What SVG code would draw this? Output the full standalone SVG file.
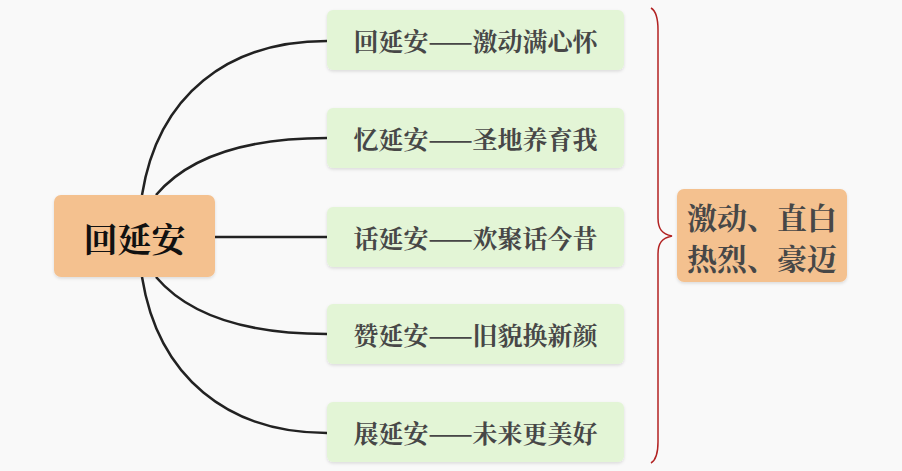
<svg xmlns="http://www.w3.org/2000/svg" width="902" height="471" viewBox="0 0 902 471">
<defs>
<filter id="sh" x="-10%" y="-10%" width="120%" height="130%"><feDropShadow dx="0" dy="1.5" stdDeviation="1.5" flood-color="#000" flood-opacity="0.12"/></filter>
<style>
.child rect{fill:#e3f5d6;filter:url(#sh)}
.child text{font-family:"Noto Serif CJK SC","Noto Sans CJK SC",serif;font-weight:bold;font-size:25px;fill:#474747;text-anchor:middle;dominant-baseline:central}
.conn path{fill:none;stroke:#222;stroke-width:2.5}
.sum rect{fill:#f4c18f;filter:url(#sh)}
.sum text{font-family:"Noto Serif CJK SC","Noto Sans CJK SC",serif;font-weight:bold;font-size:30px;fill:#474747;text-anchor:middle;dominant-baseline:central}
</style>
</defs>
<rect width="902" height="471" fill="#f9f9f9"/>
<g id="connectors" class="conn">
<path d="M142,195 C158,95 228,41 327,41"/>
<path d="M156,195 C190,155 250,138 327,138"/>
<path d="M215,237 L327,237"/>
<path d="M156,277 C190,317 250,334 327,334"/>
<path d="M142,277 C158,377 228,433 327,433"/>
</g>
<g id="root">
<rect x="54" y="195" width="161" height="82" rx="7" fill="#f4c18f" filter="url(#sh)"/>
<text x="134.5" y="237" font-family="'Noto Serif CJK SC','Noto Sans CJK SC',serif" font-weight="bold" font-size="34" fill="#111" text-anchor="middle" dominant-baseline="central">回延安</text>
</g>
<g id="c1" class="child"><rect x="327" y="10" width="297" height="60" rx="6"/><text x="475.5" y="40">回延安——激动满心怀</text></g>
<g id="c2" class="child"><rect x="327" y="108" width="297" height="60" rx="6"/><text x="475.5" y="138">忆延安——圣地养育我</text></g>
<g id="c3" class="child"><rect x="327" y="207" width="297" height="60" rx="6"/><text x="475.5" y="237">话延安——欢聚话今昔</text></g>
<g id="c4" class="child"><rect x="327" y="304" width="297" height="60" rx="6"/><text x="475.5" y="334">赞延安——旧貌换新颜</text></g>
<g id="c5" class="child"><rect x="327" y="402" width="297" height="60" rx="6"/><text x="475.5" y="432">展延安——未来更美好</text></g>
<g id="brace">
<path d="M651,8 C656,11 658,18 658,30 L658,218 C658,229 662,234 672,236 C662,238 658,243 658,254 L658,442 C658,454 656,460 651,463" fill="none" stroke="#b22222" stroke-width="1.5"/>
</g>
<g id="summary" class="sum">
<rect x="677" y="189" width="170" height="93" rx="7"/>
<text x="762" y="216">激动、直白</text>
<text x="762" y="257">热烈、豪迈</text>
</g>
</svg>
